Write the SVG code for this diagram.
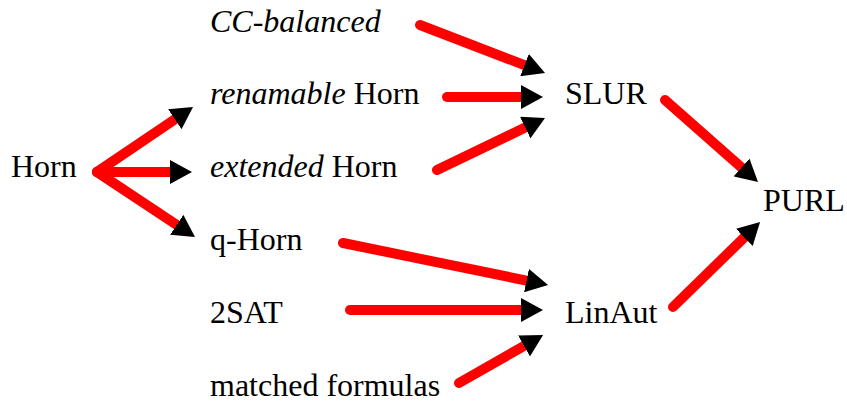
<svg xmlns="http://www.w3.org/2000/svg" width="847" height="405" viewBox="0 0 847 405">
<defs>
<marker id="ah" markerUnits="userSpaceOnUse" viewBox="0 0 22 24" refX="0" refY="12" markerWidth="22" markerHeight="24" orient="auto">
<path d="M0,0 L22,12 L0,24 Z" fill="#000"/>
</marker>
</defs>
<rect width="847" height="405" fill="#fff"/>
<g id="connectors" stroke="#ff0000" stroke-width="10" stroke-linecap="round" fill="none" marker-end="url(#ah)">
<line x1="97" y1="172" x2="174.8" y2="119.3"/>
<line x1="97" y1="172" x2="170" y2="172"/>
<line x1="97" y1="172" x2="176.7" y2="224.8"/>
<line x1="420" y1="25" x2="524.5" y2="65.1"/>
<line x1="447" y1="97" x2="521" y2="97"/>
<line x1="437" y1="170" x2="525.2" y2="127.6"/>
<line x1="665" y1="100" x2="741.5" y2="167.5"/>
<line x1="673" y1="307" x2="744.3" y2="237.4"/>
<line x1="343" y1="243" x2="526.5" y2="280.6"/>
<line x1="350" y1="310" x2="521" y2="310"/>
<line x1="459" y1="383" x2="524" y2="346"/>
</g>
<text x="11" y="177" font-family="Times New Roman" font-size="32" id="horn">Horn</text>
<text x="210" y="32" font-family="Times New Roman" font-size="32" font-style="italic" id="cc-balanced">CC-balanced</text>
<text x="210" y="104" font-family="Times New Roman" font-size="32" id="renamable-horn"><tspan font-style="italic">renamable</tspan> Horn</text>
<text x="210" y="177" font-family="Times New Roman" font-size="32" id="extended-horn"><tspan font-style="italic">extended</tspan> Horn</text>
<text x="210" y="250" font-family="Times New Roman" font-size="32" id="q-horn">q-Horn</text>
<text x="210" y="323" font-family="Times New Roman" font-size="32" id="n2sat">2SAT</text>
<text x="210" y="396" font-family="Times New Roman" font-size="32" id="matched-formulas">matched formulas</text>
<text x="565" y="104" font-family="Times New Roman" font-size="32" id="slur">SLUR</text>
<text x="565" y="323" font-family="Times New Roman" font-size="32" id="linaut">LinAut</text>
<text x="763" y="211" font-family="Times New Roman" font-size="32" id="purl">PURL</text>
</svg>
